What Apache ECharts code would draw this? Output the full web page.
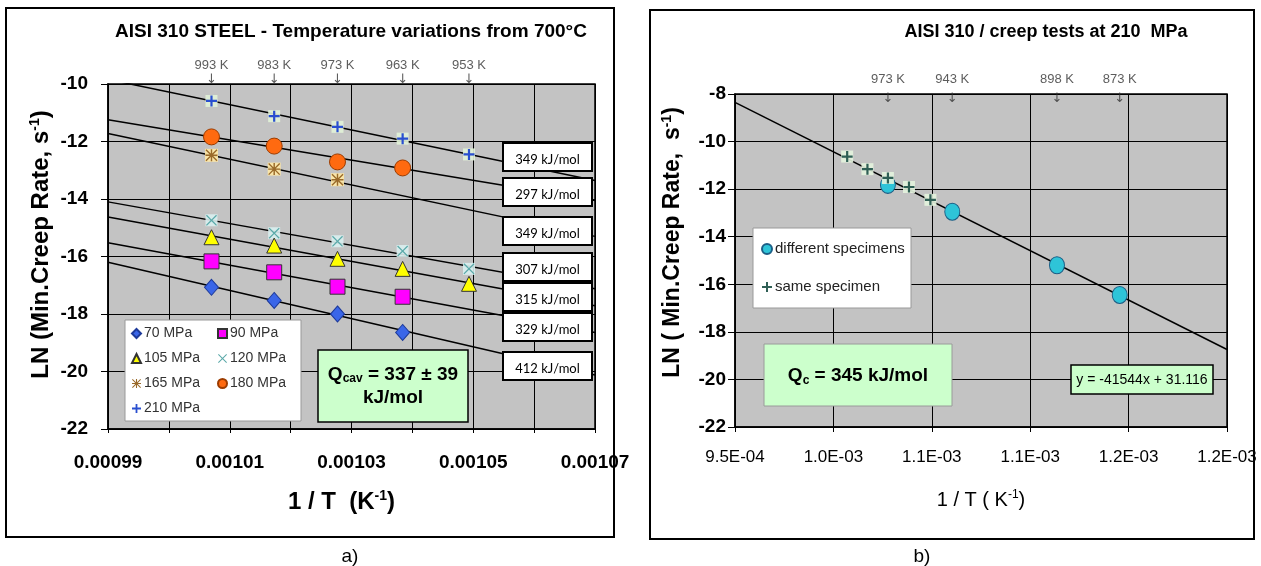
<!DOCTYPE html>
<html>
<head>
<meta charset="utf-8">
<script src="https://cdn.jsdelivr.net/npm/echarts@6/dist/echarts.min.js"></script>
<style>
  html, body { margin: 0; padding: 0; background: #fff; }
  #chart { width: 1261px; height: 566px; }
</style>
</head>
<body>
<div id="chart"></div>
<script>
// ---- panel a) : AISI 310, several stresses ----
var invT_A = [0.001007, 0.0010173, 0.0010277, 0.0010384, 0.0010493];
var tempLabels_A = ["993 K", "983 K", "973 K", "963 K", "953 K"];
var mpa70 = [-17.07, -17.53, -18.0, -18.64];
var mpa90 = [-16.17, -16.55, -17.05, -17.4];
var mpa105 = [-15.33, -15.62, -16.08, -16.43, -16.95];
var mpa120 = [-14.74, -15.19, -15.47, -15.81, -16.43];
var mpa165 = [-12.48, -12.96, -13.33];
var mpa180 = [-11.84, -12.16, -12.71, -12.92];
var mpa210 = [-10.59, -11.12, -11.49, -11.9, -12.45];
// fitted lines: value at left and right edge of the axis
var fitX_A = [0.00099, 0.00107];
var fit210 = [-9.84, -13.36];
var fit180 = [-11.24, -14.05];
var fit165 = [-11.72, -15.3];
var fit120 = [-14.1, -17.12];
var fit105 = [-14.63, -17.71];
var fit90 = [-15.52, -18.64];
var fit70 = [-16.2, -20.12];
var energyLabels = ["349 kJ/mol", "297 kJ/mol", "349 kJ/mol", "307 kJ/mol", "315 kJ/mol", "329 kJ/mol", "412 kJ/mol"];
var xTicks_A = ["0.00099", "0.00101", "0.00103", "0.00105", "0.00107"];

// ---- panel b) : creep tests at 210 MPa ----
var invT_same = [0.001007, 0.0010173, 0.0010277, 0.0010384, 0.0010493];
var sameSpecimen = [-10.63, -11.16, -11.53, -11.91, -12.45];
var invT_diff = [0.0010277, 0.0010604, 0.0011136, 0.0011455];
var diffSpecimens = [-11.82, -12.95, -15.2, -16.45];
var tempLabels_B = ["973 K", "943 K", "898 K", "873 K"];
var fitX_B = [0.00095, 0.0012];
var fit_B = [-8.35, -18.74];
var xTicks_B = ["9.5E-04", "1.0E-03", "1.1E-03", "1.1E-03", "1.2E-03", "1.2E-03"];

var F = '"Liberation Sans", Arial, sans-serif';
var FC = 'Lato, "Open Sans", sans-serif';

var PLUS = "path://M4,0H6V4H10V6H6V10H4V6H0V4H4Z";
var CROSS = "path://M0.8,0L5,4.2L9.2,0L10,0.8L5.8,5L10,9.2L9.2,10L5,5.8L0.8,10L0,9.2L4.2,5L0,0.8Z";
var STAR = "path://M4.4,0H5.6V10H4.4Z M0,4.4H10V5.6H0Z M0.8,0L10,9.2L9.2,10L0,0.8Z M9.2,0L10,0.8L0.8,10L0,9.2Z";

function pts(xs, ys) {
  return ys.map(function (y, i) { return [xs[i], y]; });
}

function fitLine(xs, ys, gi) {
  return {
    type: "line", xAxisIndex: gi, yAxisIndex: gi, data: pts(xs, ys),
    symbol: "none", silent: true, z: 2,
    lineStyle: { color: "#000", width: 1.5 }
  };
}

function dots(name, xs, ys, gi, symbol, size, color, border, z) {
  return {
    name: name, type: "scatter", xAxisIndex: gi, yAxisIndex: gi,
    data: pts(xs, ys), symbol: symbol, symbolSize: size, silent: true, z: z || 4,
    itemStyle: { color: color, borderColor: border || color, borderWidth: border ? 1 : 0, opacity: 1 }
  };
}

function halo(xs, ys, gi, color, size) {
  return {
    type: "scatter", xAxisIndex: gi, yAxisIndex: gi, data: pts(xs, ys),
    symbol: "rect", symbolSize: size, silent: true, z: 3,
    itemStyle: { color: color, opacity: 0.9 }
  };
}

// temperature captions with a small down arrow above the points
function tempMarks(xs, names, yTop, gi, offY, arrowLH) {
  return {
    type: "scatter", xAxisIndex: gi, yAxisIndex: gi, clip: false, silent: true,
    symbolSize: 1, itemStyle: { color: "rgba(0,0,0,0)" }, z: 6,
    data: xs.map(function (x, i) { return { value: [x, yTop], name: names[i] }; }),
    label: {
      show: true, position: "top", distance: 0, offset: [0, offY],
      formatter: "{t|{b}}\n{a|\u2193}",
      rich: {
        t: { fontFamily: F, fontSize: 13, color: "#333", lineHeight: 14 },
        a: { fontFamily: "DejaVu Sans", fontSize: 13, color: "#333", lineHeight: arrowLH }
      }
    }
  };
}

function box(x, y, w, h, fill, stroke, lw, z) {
  return {
    type: "rect", z: z || 10, silent: true,
    shape: { x: x, y: y, width: w, height: h },
    style: { fill: fill, stroke: stroke, lineWidth: lw }
  };
}

function label(x, y, text, font, z, rich) {
  var st = {
    text: text, x: x, y: y, font: font, fill: "#000",
    textAlign: "center", textVerticalAlign: "middle", align: "center", verticalAlign: "middle"
  };
  if (rich) st.rich = rich;
  return { type: "text", z: z || 11, silent: true, style: st };
}

var series = [
  fitLine(fitX_A, fit210, 0), fitLine(fitX_A, fit180, 0), fitLine(fitX_A, fit165, 0),
  fitLine(fitX_A, fit120, 0), fitLine(fitX_A, fit105, 0), fitLine(fitX_A, fit90, 0),
  fitLine(fitX_A, fit70, 0),
  halo(invT_A, mpa120, 0, "#d9f0ef", 12),
  halo(invT_A, mpa165, 0, "#ffe9a6", 13),
  halo(invT_A, mpa210, 0, "#e2f3d8", 12),
  dots("70 MPa", invT_A, mpa70, 0, "diamond", [14, 16], "#3a66e8", "#1d3a9a"),
  dots("90 MPa", invT_A, mpa90, 0, "rect", 15, "#ff00ff", "#333"),
  dots("105 MPa", invT_A, mpa105, 0, "triangle", 15, "#ffff00", "#333"),
  dots("120 MPa", invT_A, mpa120, 0, CROSS, 11, "#5aa9a9"),
  dots("165 MPa", invT_A, mpa165, 0, STAR, 12, "#9a6a2a"),
  dots("180 MPa", invT_A, mpa180, 0, "circle", 16, "#ff6a10", "#9c3c00"),
  dots("210 MPa", invT_A, mpa210, 0, PLUS, 11, "#2a4fd0"),
  tempMarks(invT_A, tempLabels_A, -10, 0, 3, 14),

  dots("different specimens", invT_diff, diffSpecimens, 1, "circle", [15, 17], "#2ec4d8", "#1b5e86", 2),
  fitLine(fitX_B, fit_B, 1),
  halo(invT_same, sameSpecimen, 1, "#e4f4de", 12),
  dots("same specimen", invT_same, sameSpecimen, 1, PLUS, 11, "#2f5f55", null, 5),
  tempMarks(invT_diff, tempLabels_B, -8, 1, 17, 24)
];

var tickFont = { fontFamily: F, fontWeight: "bold", fontSize: 19, color: "#000" };
function nameRich(size, weight) {
  return {
    b: { fontFamily: F, fontWeight: weight, fontSize: size, color: "#000" },
    sup: { fontFamily: F, fontWeight: weight, fontSize: Math.round(size * 0.6), color: "#000", padding: [0, 0, Math.round(size * 0.5), 0] }
  };
}

var graphics = [
  box(6, 8, 608, 529, "none", "#000", 2, 1),
  box(650, 10, 604, 529, "none", "#000", 2, 1),
  label(351, 32, "AISI 310 STEEL - Temperature variations from 700\u00b0C", "bold 19px " + F),
  label(1046, 32, "AISI 310 / creep tests at 210  MPa", "bold 18px " + F),
  label(350, 557, "a)", "19px " + F),
  label(922, 557, "b)", "19px " + F),
  // left legend background and Q box
  box(125, 320, 176, 101, "#fff", "#999", 1, 15),
  box(318, 350, 150, 72, "#ccffcc", "#000", 1.5, 10),
  label(393, 386, "{q|Q}{s|cav}{q| = 337 \u00b1 39}\n{q|kJ/mol}", "bold 19px " + F, 11, {
    q: { fontFamily: F, fontWeight: "bold", fontSize: 19, lineHeight: 23, fill: "#000" },
    s: { fontFamily: F, fontWeight: "bold", fontSize: 12, lineHeight: 23, fill: "#000", padding: [9, 0, 0, 0] }
  }),
  // right legend background, Q box, equation box
  box(753, 228, 158, 80, "#fff", "#999", 1, 15),
  box(764, 344, 188, 62, "#ccffcc", "#9a9a9a", 1, 10),
  label(858, 376, "{q|Q}{s|c}{q| = 345 kJ/mol}", "bold 19px " + F, 11, {
    q: { fontFamily: F, fontWeight: "bold", fontSize: 19, fill: "#000" },
    s: { fontFamily: F, fontWeight: "bold", fontSize: 12, fill: "#000", padding: [9, 0, 0, 0] }
  }),
  box(1071, 365, 142, 29, "#ccffcc", "#000", 1.5, 10),
  label(1142, 380, "y = -41544x + 31.116", "14px " + F)
];

// activation energy boxes on the right of panel a)
var boxTops = [143, 178, 217, 253, 283, 313, 352];
energyLabels.forEach(function (t, i) {
  graphics.push(box(503, boxTops[i], 89, 28, "#fff", "#000", 2, 10));
  graphics.push(label(547.5, boxTops[i] + 17, t, "13px " + FC));
});

var legendText = { fontFamily: F, fontSize: 14, color: "#333", lineHeight: 17, padding: [0, 0, 0, -2] };

var option = {
  backgroundColor: "#fff",
  animation: false,
  grid: [
    { left: 108, top: 84, width: 487, height: 345, show: true, backgroundColor: "#c3c3c3", borderColor: "#000", borderWidth: 1.5 },
    { left: 735, top: 94, width: 492, height: 333, show: true, backgroundColor: "#c3c3c3", borderColor: "#000", borderWidth: 1.5 }
  ],
  xAxis: [
    {
      type: "value", gridIndex: 0, min: 0.00099, max: 0.00107, interval: 0.00001,
      name: "{b|1 / T  (K}{sup|-1}{b|)}", nameLocation: "middle", nameGap: 60,
      nameTextStyle: { rich: nameRich(24, "bold"), padding: [0, 20, 0, 0] },
      axisLine: { show: true, lineStyle: { color: "#000", width: 1.5 } },
      axisTick: { show: true, length: 4, lineStyle: { color: "#000" } },
      splitLine: { show: true, lineStyle: { color: "#000", width: 1 } },
      axisLabel: Object.assign({
        margin: 24, showMinLabel: true, showMaxLabel: true,
        formatter: function (v) { var s = v.toFixed(5); return xTicks_A.indexOf(s) >= 0 ? s : ""; }
      }, tickFont)
    },
    {
      type: "value", gridIndex: 1, min: 0.00095, max: 0.0012, interval: 0.00005,
      name: "{b|1 / T ( K}{sup|-1}{b|)}", nameLocation: "middle", nameGap: 62,
      nameTextStyle: { rich: nameRich(20, "normal") },
      axisLine: { show: true, lineStyle: { color: "#000", width: 1.5 } },
      axisTick: { show: true, length: 5, lineStyle: { color: "#000" } },
      splitLine: { show: true, lineStyle: { color: "#000", width: 1 } },
      axisLabel: Object.assign({}, tickFont, {
        fontWeight: "normal", fontSize: 17, margin: 22, showMinLabel: true, showMaxLabel: true,
        formatter: function (v) { return xTicks_B[Math.round((v - 0.00095) / 0.00005)]; }
      })
    }
  ],
  yAxis: [
    {
      type: "value", gridIndex: 0, min: -22, max: -10, interval: 2,
      name: "{b|LN (Min.Creep Rate, s}{sup|-1}{b|)}", nameLocation: "middle", nameRotate: 90, nameGap: 54,
      nameTextStyle: { rich: nameRich(24, "bold"), padding: [0, 0, 0, 24] },
      axisLine: { show: true, lineStyle: { color: "#000", width: 1.5 } },
      axisTick: { show: true, length: 7, lineStyle: { color: "#000" } },
      splitLine: { show: true, lineStyle: { color: "#000", width: 1 } },
      axisLabel: Object.assign({ margin: 20 }, tickFont)
    },
    {
      type: "value", gridIndex: 1, min: -22, max: -8, interval: 2,
      name: "{b|LN ( Min.Creep Rate,  s}{sup|-1}{b|)}", nameLocation: "middle", nameRotate: 90, nameGap: 49,
      nameTextStyle: { rich: nameRich(23, "bold"), padding: [0, 0, 0, 36] },
      axisLine: { show: true, lineStyle: { color: "#000", width: 1.5 } },
      axisTick: { show: true, length: 7, lineStyle: { color: "#000" } },
      splitLine: { show: true, lineStyle: { color: "#000", width: 1 } },
      axisLabel: Object.assign({ margin: 9 }, tickFont)
    }
  ],
  legend: [
    {
      data: ["70 MPa", "105 MPa", "165 MPa", "210 MPa"], left: 131, top: 325, padding: 0,
      orient: "vertical", itemGap: 8, itemWidth: 9, itemHeight: 9, selectedMode: false, z: 20,
      textStyle: legendText
    },
    {
      data: ["90 MPa", "120 MPa", "180 MPa"], left: 217, top: 325, padding: 0,
      orient: "vertical", itemGap: 8, itemWidth: 9, itemHeight: 9, selectedMode: false, z: 20,
      textStyle: legendText
    },
    {
      data: ["different specimens", "same specimen"], left: 761, top: 240, padding: 0,
      orient: "vertical", itemGap: 20, itemWidth: 10, itemHeight: 10, selectedMode: false, z: 20,
      textStyle: { fontFamily: F, fontSize: 15, color: "#222", lineHeight: 18, padding: [0, 0, 0, -2] }
    }
  ],
  graphic: { elements: graphics },
  series: series
};

var chart = echarts.init(document.getElementById("chart"), null, { renderer: "canvas" });
chart.setOption(option);
</script>
</body>
</html>
